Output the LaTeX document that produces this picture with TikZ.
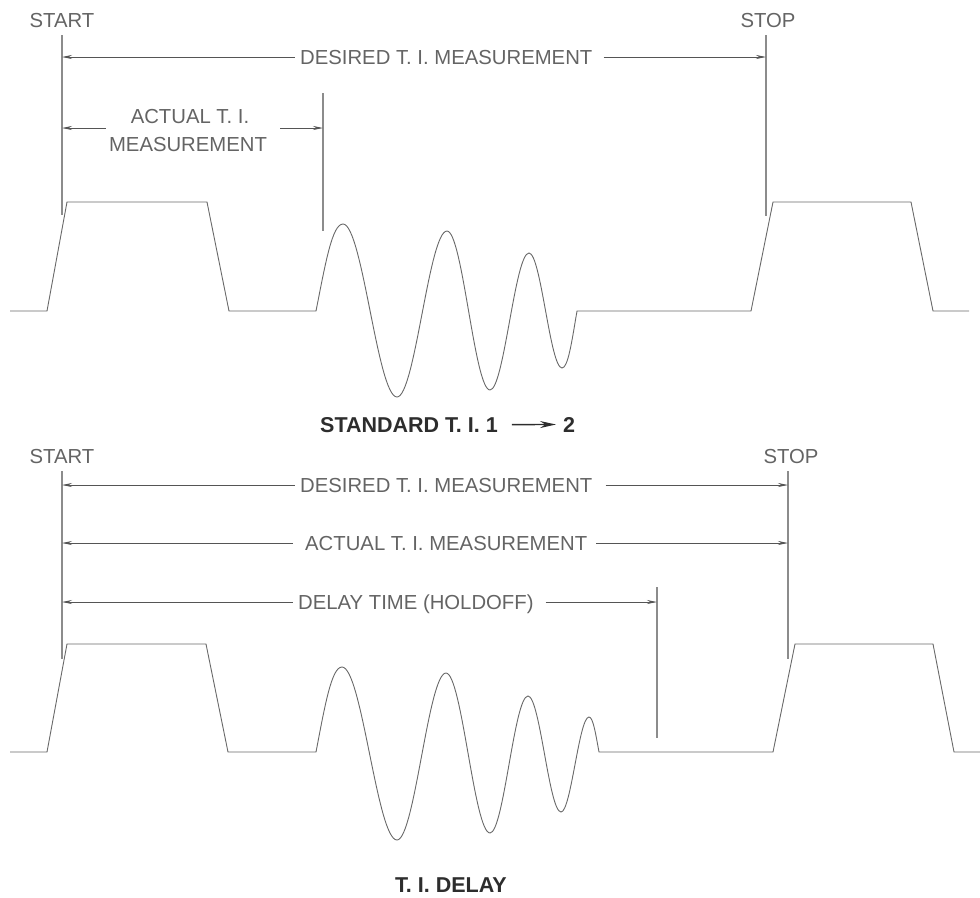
\documentclass[tikz,border=0pt]{standalone}
\usepackage{fontspec}
\setmainfont{Liberation Sans}
\usetikzlibrary{arrows.meta}
\definecolor{wavec}{RGB}{105,105,105}
\definecolor{extc}{RGB}{140,140,140}
\definecolor{dimc}{RGB}{85,85,85}
\definecolor{txtc}{RGB}{100,100,100}
\definecolor{ttlc}{RGB}{45,45,45}
\begin{document}
\begin{tikzpicture}[x=1pt,y=-1pt,
  wave/.style={draw=wavec, line width=0.9pt, line join=miter},
  ext/.style={draw=extc, line width=1.1pt},
  larrow/.style={draw=dimc, line width=0.8pt, {Stealth[length=10pt,width=4pt]}-},
  rarrow/.style={draw=dimc, line width=0.8pt, -{Stealth[length=10pt,width=4pt]}},
  tarrow/.style={draw=ttlc, line width=1.4pt, -{Stealth[length=16pt,width=7pt]}},
  lbl/.style={text=txtc, font=\fontsize{20.3}{24}\selectfont, inner sep=0pt},
  ttl/.style={text=ttlc, font=\bfseries\fontsize{21.5}{24}\selectfont, inner sep=0pt}
]
\useasboundingbox (0,0) rectangle (980,897);

% ================= top diagram =================
\node[lbl, anchor=base] (start1) at (62,27) {START};
\node[lbl, anchor=base] (stop1) at (768,27) {STOP};
\coordinate (s1t) at (62,35);  \coordinate (s1b) at (62,215);
\coordinate (e1t) at (766,35); \coordinate (e1b) at (766,216);
\coordinate (a1t) at (323,93); \coordinate (a1b) at (323,231);
\draw[ext] (s1t) -- (s1b);
\draw[ext] (e1t) -- (e1b);
\draw[ext] (a1t) -- (a1b);

% desired
\coordinate (d1l) at (62,57); \coordinate (d1r) at (766,57);
\node[lbl, anchor=base west] (des1) at (300,64) {DESIRED T. I. MEASUREMENT};
\draw[larrow] (d1l) -- ([xshift=-5pt]des1.west |- d1l);
\draw[rarrow] ([xshift=11pt]des1.east |- d1l) -- (d1r);

% actual (two lines)
\coordinate (c1l) at (62,128); \coordinate (c1r) at (323,128);
\node[lbl, anchor=base] (act1a) at (190,123) {ACTUAL T. I.};
\node[lbl, anchor=base] (act1b) at (188,151) {MEASUREMENT};
\draw[larrow] (c1l) -- ([xshift=-3pt]act1b.west |- c1l);
\draw[rarrow] ([xshift=13pt]act1b.east |- c1r) -- (c1r);

% waveform
\draw[wave] (10,311) -- (47,311) -- (67,202) -- (207,202) -- (229,311) -- (316,311)
  .. controls (325.5,263) and (332.2,224) .. (343,224)
  .. controls (362.4,224) and (377.6,397) .. (397,397)
  .. controls (415,397) and (429,231) .. (447,231)
  .. controls (462.5,231) and (474.5,390) .. (490,390)
  .. controls (504,390) and (515,253) .. (529,253)
  .. controls (540.9,253) and (550.1,368) .. (562,368)
  .. controls (568,368) and (571.75,342) .. (577,311)
  -- (751,311) -- (773,202) -- (911,202) -- (933,311) -- (969,311);

% title
\node[ttl, anchor=base west] (ttl1) at (320,432) {STANDARD T. I. 1};
\node[ttl, anchor=base west] (ttl2) at (563,432) {2};
\draw[tarrow] ([xshift=14pt]ttl1.east) -- ([xshift=-7pt]ttl2.west);

% ================= bottom diagram =================
\node[lbl, anchor=base] (start2) at (62,463) {START};
\node[lbl, anchor=base] (stop2) at (791,463) {STOP};
\coordinate (s2t) at (62,471);  \coordinate (s2b) at (62,659);
\coordinate (e2t) at (788,471); \coordinate (e2b) at (788,659);
\coordinate (h2t) at (657,587); \coordinate (h2b) at (657,738);
\draw[ext] (s2t) -- (s2b);
\draw[ext] (e2t) -- (e2b);
\draw[ext] (h2t) -- (h2b);

% desired
\coordinate (d2l) at (62,485); \coordinate (d2r) at (788,485);
\node[lbl, anchor=base west] (des2) at (300,492) {DESIRED T. I. MEASUREMENT};
\draw[larrow] (d2l) -- ([xshift=-5pt]des2.west |- d2l);
\draw[rarrow] ([xshift=13pt]des2.east |- d2l) -- (d2r);

% actual
\coordinate (c2l) at (62,543); \coordinate (c2r) at (788,543);
\node[lbl, anchor=base west] (act2) at (305,550) {ACTUAL T. I. MEASUREMENT};
\draw[larrow] (c2l) -- ([xshift=-12pt]act2.west |- c2l);
\draw[rarrow] ([xshift=9pt]act2.east |- c2l) -- (c2r);

% delay
\coordinate (y2l) at (62,602); \coordinate (y2r) at (657,602);
\node[lbl, anchor=base west] (dly2) at (298,609) {DELAY TIME (HOLDOFF)};
\draw[larrow] (y2l) -- ([xshift=-5pt]dly2.west |- y2l);
\draw[rarrow] ([xshift=12pt]dly2.east |- y2l) -- (y2r);

% waveform
\draw[wave] (10,752) -- (47,752) -- (67,644) -- (206,644) -- (228,752) -- (316,752)
  .. controls (325,705) and (331.6,667) .. (342,667)
  .. controls (361.8,667) and (377.2,840) .. (397,840)
  .. controls (414.6,840) and (428.4,673) .. (446,673)
  .. controls (461.8,673) and (474.2,833) .. (490,833)
  .. controls (503.7,833) and (514.3,696) .. (528,696)
  .. controls (539.9,696) and (549.1,812) .. (561,812)
  .. controls (571,812) and (579,717) .. (589,717)
  .. controls (593,717) and (595.5,733) .. (599,752)
  -- (773,752) -- (795,644) -- (933,644) -- (954,752) -- (980,752);

% title
\node[ttl, anchor=base west] (ttl3) at (395,892) {T. I. DELAY};
\end{tikzpicture}
\end{document}
